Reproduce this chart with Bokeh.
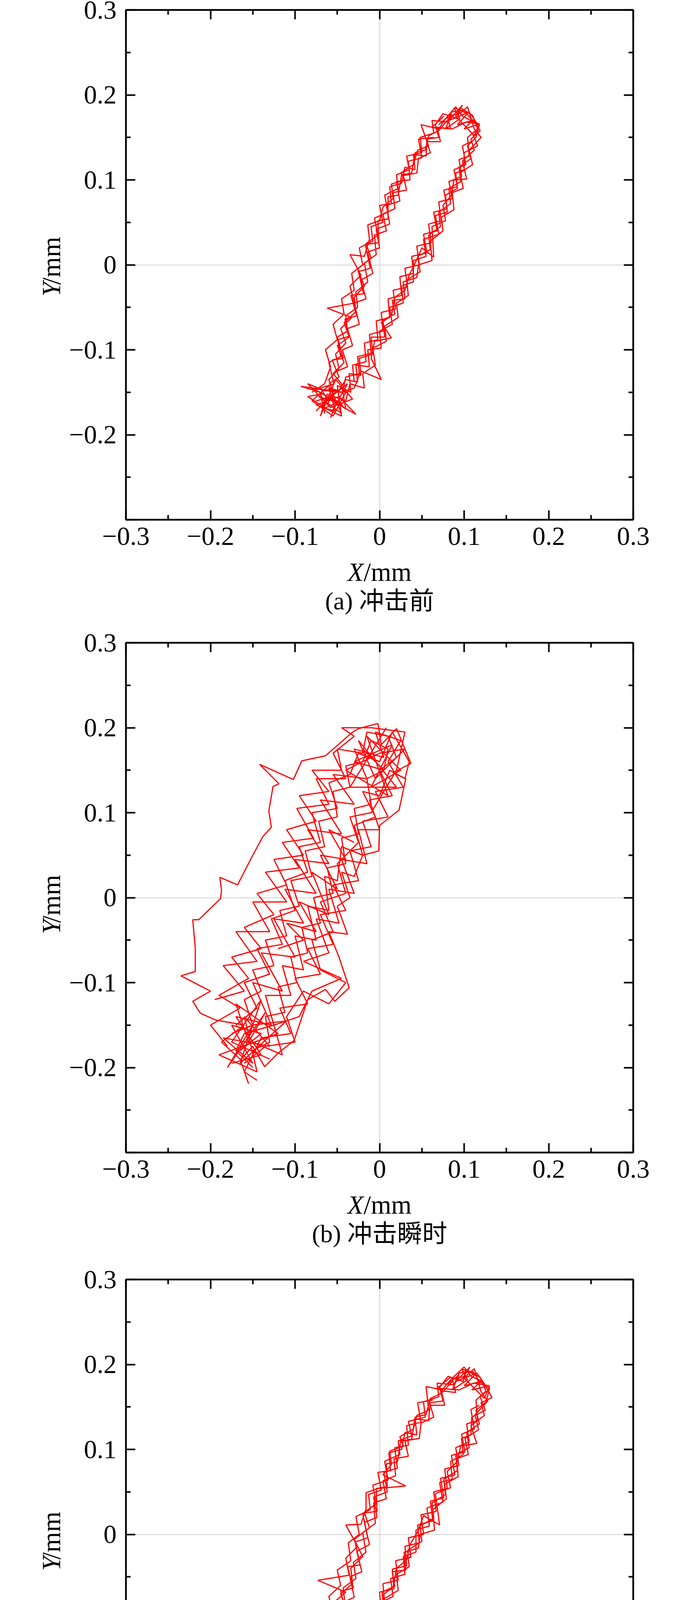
import math
from bokeh.plotting import figure
from bokeh.models import FixedTicker, LinearAxis, Label, CustomJSTickFormatter, Range1d
from bokeh.layouts import column, row
from bokeh.embed import file_html
from bokeh.resources import INLINE

# ---------------- data (mm) ----------------
major_ticks = [-0.3, -0.2, -0.1, 0.0, 0.1, 0.2, 0.3]
minor_ticks = [-0.25, -0.15, -0.05, 0.05, 0.15, 0.25]
captions = ["(a) 冲击前", "(b) 冲击瞬时", "(c) 冲击后"]

a_loop1 = [(-0.062,-0.165),(-0.055,-0.150),(-0.060,-0.135),(-0.048,-0.122),(-0.052,-0.105),(-0.040,-0.092),(-0.046,-0.075),(-0.033,-0.062),(-0.062,-0.051),(-0.030,-0.045),(-0.035,-0.025),(-0.022,-0.012),(-0.035,0.012),(-0.018,0.010),(-0.012,0.030),(-0.014,0.047),(0.000,0.052),(0.004,0.068),(0.016,0.078),(0.014,0.095),(0.030,0.100),(0.025,0.108),(0.040,0.118),(0.045,0.135),(0.058,0.140),(0.049,0.165),(0.070,0.160),(0.078,0.172),(0.090,0.186),(0.098,0.175),(0.112,0.168),(0.119,0.158),(0.108,0.148),(0.112,0.135),(0.098,0.122),(0.103,0.101),(0.088,0.100),(0.085,0.082),(0.075,0.070),(0.078,0.052),(0.062,0.045),(0.064,0.009),(0.050,0.020),(0.042,0.002),(0.035,-0.012),(0.030,-0.030),(0.018,-0.038),(0.014,-0.060),(0.002,-0.068),(0.014,-0.086),(-0.006,-0.090),(-0.010,-0.110),(0.002,-0.135),(-0.022,-0.125),(-0.030,-0.145),(-0.045,-0.150),(-0.093,-0.143),(-0.070,-0.150),(-0.065,-0.175)]
a_loop2 = [(-0.058,-0.180),(-0.050,-0.160),(-0.040,-0.170),(-0.045,-0.140),(-0.055,-0.128),(-0.042,-0.115),(-0.050,-0.095),(-0.036,-0.085),(-0.042,-0.068),(-0.028,-0.055),(-0.030,-0.038),(-0.018,-0.025),(-0.026,-0.005),(-0.010,0.008),(-0.016,0.025),(-0.002,0.035),(-0.006,0.055),(0.010,0.062),(0.006,0.082),(0.022,0.090),(0.020,0.106),(0.035,0.112),(0.032,0.128),(0.050,0.132),(0.048,0.150),(0.064,0.155),(0.062,0.170),(0.080,0.168),(0.085,0.180),(0.100,0.182),(0.108,0.172),(0.118,0.165),(0.114,0.150),(0.104,0.140),(0.108,0.125),(0.094,0.115),(0.096,0.098),(0.082,0.090),(0.084,0.072),(0.070,0.062),(0.072,0.045),(0.058,0.035),(0.060,0.018),(0.045,0.010),(0.048,-0.008),(0.032,-0.018),(0.034,-0.036),(0.020,-0.045),(0.022,-0.062),(0.006,-0.072),(0.008,-0.090),(-0.008,-0.098),(-0.005,-0.118),(-0.020,-0.128),(-0.018,-0.145),(-0.035,-0.140),(-0.040,-0.160),(-0.055,-0.155),(-0.075,-0.160)]
a_loop3 = [(-0.080,-0.150),(-0.065,-0.140),(-0.058,-0.120),(-0.064,-0.100),(-0.050,-0.088),(-0.055,-0.070),(-0.042,-0.058),(-0.045,-0.040),(-0.030,-0.030),(-0.033,-0.010),(-0.020,0.000),(-0.024,0.020),(-0.008,0.028),(-0.010,0.045),(0.004,0.050),(0.000,0.070),(0.014,0.072),(0.012,0.092),(0.026,0.096),(0.030,0.115),(0.042,0.112),(0.040,0.130),(0.055,0.128),(0.056,0.148),(0.070,0.150),(0.066,0.165),(0.075,0.178),(0.092,0.172),(0.095,0.185),(0.110,0.176),(0.116,0.160),(0.110,0.155),(0.116,0.140),(0.100,0.132),(0.100,0.112),(0.090,0.108),(0.092,0.090),(0.078,0.082),(0.080,0.062),(0.066,0.058),(0.070,0.036),(0.052,0.030),(0.055,0.010),(0.040,0.005),(0.040,-0.020),(0.026,-0.025),(0.028,-0.045),(0.012,-0.050),(0.015,-0.070),(0.000,-0.078),(0.002,-0.098),(-0.014,-0.100),(-0.012,-0.120),(-0.028,-0.118),(-0.026,-0.138),(-0.040,-0.135),(-0.048,-0.148),(-0.060,-0.145),(-0.052,-0.172),(-0.068,-0.168)]
a_loop4 = [(-0.075,-0.172),(-0.062,-0.158),(-0.070,-0.145),(-0.054,-0.140),(-0.060,-0.115),(-0.046,-0.108),(-0.050,-0.085),(-0.038,-0.078),(-0.040,-0.060),(-0.026,-0.050),(-0.028,-0.032),(-0.014,-0.020),(-0.018,0.002),(-0.004,0.012),(-0.006,0.035),(0.008,0.040),(0.004,0.060),(0.018,0.066),(0.016,0.085),(0.032,0.088),(0.028,0.105),(0.044,0.108),(0.046,0.125),(0.060,0.132),(0.056,0.145),(0.072,0.145),(0.068,0.162),(0.084,0.160),(0.080,0.175),(0.095,0.178),(0.104,0.186),(0.112,0.160),(0.120,0.150),(0.106,0.135),(0.110,0.118),(0.095,0.108),(0.099,0.090),(0.086,0.085),(0.088,0.065),(0.073,0.056),(0.075,0.040),(0.060,0.028),(0.062,0.005),(0.046,0.000),(0.044,-0.015),(0.028,-0.020),(0.030,-0.040),(0.015,-0.042),(0.018,-0.058),(0.004,-0.065),(0.006,-0.085),(-0.010,-0.085),(-0.008,-0.105),(-0.024,-0.110),(-0.022,-0.130),(-0.036,-0.128),(-0.034,-0.150),(-0.050,-0.142),(-0.045,-0.178),(-0.062,-0.170),(-0.085,-0.155),(-0.068,-0.152)]
a_left_extra = [(-0.050,-0.125),(-0.038,-0.120),(-0.044,-0.100),(-0.032,-0.095),(-0.038,-0.075),(-0.024,-0.070),(-0.030,-0.045),(-0.016,-0.040),(-0.022,-0.018),(-0.008,-0.010),(-0.014,0.015),(0.000,0.020),(-0.004,0.042),(0.012,0.048),(0.008,0.070),(0.024,0.075),(0.020,0.098),(0.036,0.100),(0.034,0.122),(0.050,0.126),(0.046,0.148),(0.064,0.150)]
a_right_extra = [(0.108,0.145),(0.098,0.140),(0.102,0.118),(0.088,0.112),(0.092,0.092),(0.076,0.088),(0.080,0.066),(0.064,0.062),(0.068,0.040),(0.052,0.036),(0.056,0.014),(0.038,0.010),(0.040,-0.010),(0.024,-0.014),(0.026,-0.036),(0.010,-0.040),(0.012,-0.062),(-0.004,-0.066),(-0.002,-0.088),(-0.018,-0.092),(-0.016,-0.114),(-0.032,-0.118),(-0.030,-0.138)]
a_left_extra2 = [(-0.060,-0.140),(-0.048,-0.132),(-0.056,-0.112),(-0.043,-0.110),(-0.049,-0.088),(-0.036,-0.084),(-0.041,-0.064),(-0.027,-0.060),(-0.034,-0.036),(-0.019,-0.034),(-0.025,-0.008),(-0.011,-0.004),(-0.017,0.024),(-0.001,0.026),(-0.002,0.052),(0.010,0.054),(0.010,0.080),(0.022,0.082),(0.026,0.106),(0.038,0.108),(0.042,0.132),(0.054,0.135),(0.058,0.152),(0.070,0.158),(0.080,0.170)]
a_right_extra2 = [(0.114,0.158),(0.104,0.150),(0.106,0.128),(0.094,0.124),(0.097,0.104),(0.082,0.098),(0.086,0.078),(0.070,0.074),(0.073,0.052),(0.058,0.048),(0.061,0.026),(0.044,0.022),(0.047,0.000),(0.030,-0.004),(0.033,-0.026),(0.016,-0.030),(0.019,-0.052),(0.002,-0.056),(0.004,-0.078),(-0.012,-0.082),(-0.010,-0.104),(-0.026,-0.108),(-0.024,-0.128),(-0.040,-0.132),(-0.044,-0.150)]
a_bottom_jitter = [(-0.068,-0.170),(-0.050,-0.162),(-0.072,-0.155),(-0.045,-0.175),(-0.060,-0.142),(-0.080,-0.160),(-0.055,-0.178),(-0.040,-0.150),(-0.065,-0.148),(-0.085,-0.140),(-0.058,-0.168),(-0.032,-0.158),(-0.052,-0.135),(-0.070,-0.178),(-0.062,-0.152),(-0.044,-0.165),(-0.078,-0.146),(-0.050,-0.148),(-0.066,-0.162),(-0.038,-0.140),(-0.056,-0.172),(-0.075,-0.165),(-0.048,-0.155),(-0.028,-0.176),(-0.060,-0.158)]
a_top_jitter = [(0.070,0.165),(0.085,0.178),(0.078,0.160),(0.095,0.172),(0.088,0.185),(0.104,0.178),(0.092,0.165),(0.110,0.170),(0.100,0.160),(0.116,0.165),(0.106,0.180),(0.082,0.170),(0.098,0.188),(0.090,0.175),(0.112,0.152),(0.118,0.166),(0.102,0.168),(0.086,0.160),(0.062,0.162),(0.076,0.175)]

b_sweep1 = [(-0.155,-0.219),(-0.165,-0.190),(-0.187,-0.170),(-0.160,-0.150),(-0.194,-0.144),(-0.212,-0.136),(-0.221,-0.122),(-0.200,-0.110),(-0.235,-0.092),(-0.218,-0.087),(-0.218,-0.059),(-0.221,-0.026),(-0.214,-0.026),(-0.188,-0.001),(-0.187,0.009),(-0.189,0.024),(-0.168,0.015),(-0.151,0.048),(-0.138,0.072),(-0.128,0.083),(-0.131,0.102),(-0.126,0.131),(-0.119,0.134),(-0.142,0.157),(-0.102,0.139),(-0.092,0.161),(-0.064,0.167),(-0.033,0.194),(-0.025,0.199),(-0.002,0.205),(0.002,0.180),(0.020,0.199),(0.037,0.158),(0.016,0.147),(0.031,0.140),(0.023,0.103),(0.000,0.085),(-0.001,0.055),(-0.020,0.050),(-0.030,0.025),(-0.045,0.030),(-0.035,0.000),(-0.050,-0.010),(-0.038,-0.043),(-0.060,-0.040),(-0.048,-0.070),(-0.036,-0.106),(-0.053,-0.122),(-0.064,-0.108),(-0.085,-0.120),(-0.101,-0.168),(-0.120,-0.183),(-0.136,-0.199),(-0.150,-0.175),(-0.165,-0.191)]
b_sweep2 = [(-0.175,-0.160),(-0.150,-0.150),(-0.160,-0.120),(-0.140,-0.110),(-0.150,-0.085),(-0.125,-0.080),(-0.135,-0.050),(-0.110,-0.045),(-0.118,-0.015),(-0.095,-0.010),(-0.105,0.020),(-0.080,0.025),(-0.088,0.055),(-0.065,0.060),(-0.072,0.090),(-0.050,0.095),(-0.055,0.125),(-0.035,0.130),(-0.040,0.155),(-0.020,0.160),(-0.010,0.185),(0.010,0.175),(0.005,0.150),(-0.015,0.140),(-0.010,0.110),(-0.030,0.105),(-0.025,0.075),(-0.045,0.070),(-0.040,0.040),(-0.062,0.035),(-0.055,0.005),(-0.078,0.000),(-0.070,-0.030),(-0.092,-0.035),(-0.085,-0.065),(-0.105,-0.070),(-0.098,-0.100),(-0.120,-0.105),(-0.112,-0.135),(-0.135,-0.140),(-0.130,-0.170),(-0.150,-0.180)]
b_sweep3 = [(-0.175,-0.195),(-0.140,-0.185),(-0.170,-0.140),(-0.128,-0.150),(-0.150,-0.100),(-0.115,-0.110),(-0.140,-0.065),(-0.100,-0.070),(-0.125,-0.025),(-0.090,-0.030),(-0.112,0.010),(-0.075,0.005),(-0.100,0.045),(-0.060,0.040),(-0.085,0.080),(-0.045,0.075),(-0.070,0.115),(-0.030,0.110),(-0.055,0.145),(-0.015,0.140),(-0.030,0.175),(0.005,0.165),(-0.005,0.195),(0.025,0.185),(0.010,0.160),(0.028,0.130),(-0.005,0.125),(0.010,0.095),(-0.020,0.090),(-0.010,0.060),(-0.035,0.055),(-0.025,0.020),(-0.055,0.015),(-0.040,-0.015),(-0.070,-0.020),(-0.055,-0.055),(-0.085,-0.060),(-0.070,-0.090),(-0.100,-0.095),(-0.085,-0.125),(-0.118,-0.130),(-0.105,-0.160),(-0.140,-0.165),(-0.160,-0.205),(-0.145,-0.215)]
b_sweep4 = [(-0.180,-0.175),(-0.200,-0.150),(-0.165,-0.130),(-0.190,-0.115),(-0.155,-0.095),(-0.175,-0.070),(-0.140,-0.060),(-0.160,-0.035),(-0.125,-0.020),(-0.145,0.005),(-0.110,0.015),(-0.125,0.045),(-0.090,0.050),(-0.110,0.080),(-0.075,0.090),(-0.095,0.120),(-0.060,0.125),(-0.080,0.150),(-0.045,0.150),(-0.050,0.175),(-0.020,0.170),(-0.015,0.195),(0.010,0.190),(0.020,0.165),(0.000,0.150),(0.015,0.120),(-0.012,0.115),(0.000,0.080),(-0.025,0.080),(-0.015,0.040),(-0.045,0.045),(-0.030,0.005),(-0.060,0.010),(-0.048,-0.030),(-0.075,-0.025),(-0.060,-0.065),(-0.090,-0.075),(-0.045,-0.095),(-0.080,-0.110),(-0.095,-0.140),(-0.125,-0.150),(-0.115,-0.185),(-0.150,-0.170)]
b_sweep5 = [(-0.170,-0.150),(-0.145,-0.130),(-0.160,-0.100),(-0.130,-0.090),(-0.145,-0.060),(-0.115,-0.055),(-0.128,-0.025),(-0.100,-0.015),(-0.112,0.020),(-0.085,0.030),(-0.095,0.060),(-0.070,0.065),(-0.080,0.100),(-0.050,0.105),(-0.060,0.135),(-0.035,0.145),(-0.025,0.170),(0.000,0.160),(0.015,0.195),(0.035,0.160),(0.030,0.140),(0.012,0.150),(0.000,0.120),(-0.020,0.125),(-0.005,0.095),(-0.030,0.085),(-0.020,0.050),(-0.045,0.060),(-0.050,0.020),(-0.065,0.025),(-0.060,-0.015),(-0.085,-0.010),(-0.075,-0.050),(-0.100,-0.045),(-0.090,-0.085),(-0.115,-0.080),(-0.105,-0.115),(-0.135,-0.115),(-0.125,-0.150),(-0.160,-0.160),(-0.170,-0.180),(-0.150,-0.200)]
b_sweep6 = [(-0.195,-0.120),(-0.160,-0.110),(-0.185,-0.080),(-0.145,-0.075),(-0.170,-0.040),(-0.130,-0.040),(-0.150,-0.005),(-0.110,-0.005),(-0.135,0.030),(-0.095,0.035),(-0.115,0.065),(-0.078,0.070),(-0.098,0.105),(-0.060,0.110),(-0.075,0.140),(-0.040,0.140),(-0.055,0.170),(-0.030,0.190),(-0.045,0.200),(-0.010,0.200),(0.030,0.195),(0.020,0.150),(-0.010,0.100),(-0.035,0.095),(-0.025,0.065),(-0.050,0.040),(-0.040,0.005),(-0.070,-0.005),(-0.055,-0.040),(-0.080,-0.050),(-0.070,-0.085),(-0.040,-0.100),(-0.060,-0.125),(-0.090,-0.110),(-0.110,-0.140),(-0.100,-0.170),(-0.135,-0.175),(-0.160,-0.195)]
b_mid_jitter = [(-0.120,-0.060),(-0.090,-0.050),(-0.110,-0.030),(-0.075,-0.040),(-0.095,-0.005),(-0.060,-0.020),(-0.080,0.030),(-0.050,0.010),(-0.070,0.050),(-0.040,0.045),(-0.060,0.080),(-0.030,0.065)]
b_bottom_jitter = [(-0.165,-0.180),(-0.140,-0.160),(-0.175,-0.150),(-0.150,-0.195),(-0.185,-0.165),(-0.130,-0.175),(-0.160,-0.140),(-0.145,-0.205),(-0.190,-0.185),(-0.120,-0.160),(-0.170,-0.125),(-0.155,-0.170),(-0.135,-0.135),(-0.180,-0.200),(-0.150,-0.150),(-0.110,-0.145),(-0.165,-0.195),(-0.140,-0.120),(-0.175,-0.170),(-0.130,-0.190)]
b_top_jitter = [(-0.020,0.175),(0.005,0.150),(-0.030,0.160),(0.015,0.180),(-0.010,0.130),(0.025,0.150),(-0.015,0.190),(0.010,0.120),(-0.040,0.150),(0.000,0.170),(0.030,0.175),(-0.005,0.140),(-0.025,0.185),(0.020,0.130),(-0.035,0.130),(0.008,0.200)]

c_loop1 = [(-0.070,-0.187),(-0.060,-0.165),(-0.068,-0.150),(-0.055,-0.135),(-0.062,-0.115),(-0.048,-0.100),(-0.054,-0.080),(-0.040,-0.068),(-0.073,-0.054),(-0.036,-0.048),(-0.040,-0.028),(-0.026,-0.014),(-0.040,0.011),(-0.022,0.012),(-0.016,0.030),(-0.016,0.049),(-0.002,0.054),(0.031,0.057),(0.004,0.070),(0.014,0.082),(0.012,0.098),(0.028,0.104),(0.024,0.115),(0.040,0.124),(0.044,0.140),(0.058,0.146),(0.055,0.174),(0.074,0.170),(0.084,0.182),(0.100,0.197),(0.108,0.186),(0.122,0.180),(0.133,0.161),(0.120,0.155),(0.124,0.140),(0.108,0.128),(0.115,0.107),(0.096,0.104),(0.092,0.086),(0.080,0.074),(0.084,0.055),(0.066,0.048),(0.071,0.011),(0.052,0.022),(0.045,0.003),(0.036,-0.012),(0.032,-0.030),(0.020,-0.040),(0.016,-0.062),(0.003,-0.072),(0.0155,-0.091),(-0.006,-0.094),(-0.010,-0.116),(0.001,-0.141),(-0.024,-0.130),(-0.032,-0.150),(-0.050,-0.158),(-0.104,-0.150),(-0.076,-0.158),(-0.072,-0.182)]
c_loop2 = [(-0.062,-0.188),(-0.054,-0.168),(-0.044,-0.178),(-0.050,-0.146),(-0.060,-0.134),(-0.046,-0.120),(-0.056,-0.098),(-0.040,-0.088),(-0.046,-0.070),(-0.032,-0.058),(-0.034,-0.040),(-0.020,-0.026),(-0.030,-0.006),(-0.012,0.008),(-0.018,0.026),(-0.004,0.036),(-0.008,0.058),(0.010,0.064),(0.006,0.086),(0.024,0.094),(0.022,0.110),(0.038,0.116),(0.034,0.133),(0.054,0.138),(0.052,0.156),(0.070,0.162),(0.068,0.178),(0.088,0.176),(0.094,0.190),(0.110,0.192),(0.118,0.180),(0.130,0.172),(0.126,0.156),(0.114,0.146),(0.118,0.130),(0.103,0.120),(0.106,0.102),(0.090,0.094),(0.092,0.075),(0.076,0.065),(0.078,0.047),(0.062,0.037),(0.064,0.019),(0.048,0.010),(0.050,-0.008),(0.033,-0.019),(0.035,-0.038),(0.020,-0.047),(0.022,-0.066),(0.005,-0.076),(0.007,-0.094),(-0.010,-0.102),(-0.006,-0.123),(-0.022,-0.134),(-0.020,-0.152),(-0.038,-0.146),(-0.044,-0.168),(-0.060,-0.162),(-0.082,-0.168)]
c_loop3 = [(-0.088,-0.158),(-0.070,-0.146),(-0.064,-0.125),(-0.070,-0.104),(-0.055,-0.092),(-0.060,-0.073),(-0.046,-0.060),(-0.050,-0.042),(-0.034,-0.031),(-0.037,-0.010),(-0.024,0.000),(-0.028,0.021),(-0.011,0.029),(-0.013,0.047),(0.002,0.052),(-0.002,0.073),(0.013,0.075),(0.011,0.096),(0.026,0.100),(0.030,0.120),(0.044,0.117),(0.042,0.136),(0.058,0.134),(0.060,0.155),(0.075,0.157),(0.071,0.173),(0.081,0.186),(0.099,0.180),(0.102,0.194),(0.119,0.185),(0.126,0.168),(0.119,0.162),(0.125,0.146),(0.109,0.138),(0.108,0.117),(0.097,0.113),(0.099,0.094),(0.084,0.086),(0.086,0.065),(0.071,0.061),(0.075,0.038),(0.056,0.031),(0.059,0.010),(0.043,0.005),(0.043,-0.021),(0.028,-0.026),(0.030,-0.047),(0.013,-0.052),(0.016,-0.073),(0.000,-0.081),(0.002,-0.102),(-0.015,-0.104),(-0.013,-0.125),(-0.030,-0.123),(-0.028,-0.144),(-0.043,-0.141),(-0.052,-0.155),(-0.064,-0.151),(-0.056,-0.180),(-0.073,-0.176)]
c_loop4 = [(-0.082,-0.180),(-0.067,-0.165),(-0.076,-0.151),(-0.058,-0.146),(-0.065,-0.120),(-0.050,-0.113),(-0.054,-0.089),(-0.041,-0.082),(-0.043,-0.063),(-0.028,-0.052),(-0.031,-0.033),(-0.016,-0.021),(-0.020,0.002),(-0.005,0.013),(-0.007,0.037),(0.008,0.042),(0.004,0.063),(0.019,0.069),(0.017,0.089),(0.034,0.092),(0.030,0.110),(0.047,0.113),(0.049,0.131),(0.064,0.138),(0.060,0.152),(0.077,0.152),(0.073,0.169),(0.090,0.167),(0.086,0.183),(0.102,0.186),(0.112,0.195),(0.120,0.168),(0.128,0.157),(0.113,0.141),(0.117,0.123),(0.101,0.113),(0.105,0.094),(0.091,0.089),(0.093,0.068),(0.077,0.059),(0.079,0.042),(0.063,0.029),(0.065,0.005),(0.048,0.000),(0.046,-0.016),(0.029,-0.021),(0.031,-0.042),(0.015,-0.044),(0.018,-0.061),(0.003,-0.068),(0.005,-0.089),(-0.012,-0.089),(-0.010,-0.110),(-0.027,-0.115),(-0.025,-0.136),(-0.040,-0.134),(-0.038,-0.157),(-0.055,-0.148),(-0.049,-0.186),(-0.067,-0.178),(-0.092,-0.162),(-0.073,-0.159)]
c_left_extra = [(-0.056,-0.130),(-0.044,-0.126),(-0.050,-0.105),(-0.038,-0.100),(-0.043,-0.080),(-0.030,-0.074),(-0.035,-0.050),(-0.021,-0.044),(-0.027,-0.020),(-0.012,-0.012),(-0.018,0.014),(-0.003,0.020),(-0.007,0.044),(0.009,0.050),(0.005,0.073),(0.021,0.078),(0.018,0.102),(0.034,0.105),(0.032,0.128),(0.049,0.132),(0.045,0.155),(0.063,0.158)]
c_right_extra = [(0.118,0.152),(0.108,0.147),(0.112,0.124),(0.097,0.118),(0.101,0.097),(0.085,0.093),(0.089,0.070),(0.072,0.066),(0.076,0.043),(0.060,0.039),(0.063,0.016),(0.045,0.011),(0.047,-0.010),(0.030,-0.014),(0.032,-0.037),(0.015,-0.041),(0.017,-0.064),(0.000,-0.068),(0.002,-0.091),(-0.015,-0.095),(-0.013,-0.118),(-0.030,-0.122),(-0.028,-0.143)]
c_left_extra2 = [(-0.066,-0.145),(-0.054,-0.138),(-0.062,-0.117),(-0.048,-0.114),(-0.054,-0.092),(-0.041,-0.088),(-0.046,-0.067),(-0.031,-0.063),(-0.038,-0.038),(-0.023,-0.036),(-0.029,-0.009),(-0.014,-0.004),(-0.020,0.025),(-0.003,0.027),(-0.004,0.054),(0.009,0.056),(0.008,0.083),(0.021,0.085),(0.025,0.110),(0.038,0.112),(0.042,0.138),(0.055,0.141),(0.060,0.160),(0.073,0.166),(0.086,0.180)]
c_right_extra2 = [(0.125,0.168),(0.114,0.158),(0.116,0.134),(0.103,0.130),(0.106,0.109),(0.090,0.102),(0.094,0.081),(0.077,0.077),(0.080,0.054),(0.064,0.050),(0.067,0.027),(0.049,0.023),(0.052,0.000),(0.034,-0.004),(0.037,-0.027),(0.019,-0.031),(0.022,-0.054),(0.004,-0.058),(0.006,-0.081),(-0.011,-0.085),(-0.009,-0.108),(-0.026,-0.112),(-0.024,-0.133),(-0.041,-0.138),(-0.046,-0.157)]
c_bottom_jitter = [(-0.075,-0.178),(-0.058,-0.170),(-0.080,-0.162),(-0.050,-0.184),(-0.066,-0.148),(-0.088,-0.168),(-0.060,-0.186),(-0.044,-0.158),(-0.072,-0.155),(-0.094,-0.146),(-0.064,-0.176),(-0.038,-0.166),(-0.058,-0.140),(-0.078,-0.186),(-0.068,-0.160),(-0.050,-0.172),(-0.086,-0.152),(-0.055,-0.155),(-0.072,-0.170),(-0.042,-0.146),(-0.062,-0.180),(-0.082,-0.174),(-0.054,-0.162),(-0.034,-0.182),(-0.066,-0.165)]
c_top_jitter = [(0.078,0.175),(0.094,0.188),(0.086,0.170),(0.104,0.182),(0.097,0.195),(0.113,0.188),(0.100,0.175),(0.120,0.180),(0.109,0.170),(0.126,0.174),(0.115,0.190),(0.090,0.180),(0.107,0.197),(0.099,0.185),(0.124,0.160),(0.130,0.175),(0.111,0.178),(0.094,0.170),(0.068,0.172),(0.084,0.185)]

panel_a = [a_loop1, a_loop2, a_loop3, a_loop4, a_left_extra, a_right_extra,
           a_left_extra2, a_right_extra2, a_bottom_jitter, a_top_jitter]
panel_b = [b_sweep1, b_sweep2, b_sweep3, b_sweep4, b_sweep5, b_sweep6,
           b_mid_jitter, b_bottom_jitter, b_top_jitter]
panel_c = [c_loop1, c_loop2, c_loop3, c_loop4, c_left_extra, c_right_extra,
           c_left_extra2, c_right_extra2, c_bottom_jitter, c_top_jitter]

# ---------------- styling / layout ----------------
SERIF = "'Liberation Serif', 'Times New Roman', serif"
CAPFONT = "'Liberation Serif', 'Noto Sans CJK SC', serif"
FS = "67px"
FRAME_W, FRAME_H = 1299, 1305
LEFT_MAIN, RIGHT_MAIN, BOTTOM_MAIN = 152, 135, 95
YLAB_W = 170
MAIN_W = LEFT_MAIN + FRAME_W + RIGHT_MAIN
FULL_W = YLAB_W + MAIN_W
W_ITALIC_X, W_ITALIC_Y, W_MM = 41, 37, 123   # glyph advance widths at 67px
XLAB_FROM_TOP, CAP_FROM_TOP = 38, 113         # centres inside the strip below each plot
YLAB_SHIFT = 42                                # rotated label: move down to sit on the frame centre

fmt_js = """
if (Math.abs(tick) < 1e-9) return '0';
var s = Math.abs(tick).toFixed(1);
return tick < 0 ? '\\u2212' + s : s;"""


def style_axis(ax):
    ax.ticker = FixedTicker(ticks=major_ticks, minor_ticks=minor_ticks)
    ax.axis_line_width = 4
    ax.axis_line_color = "black"
    ax.major_tick_line_width = 4
    ax.minor_tick_line_width = 4
    ax.major_tick_in = 24
    ax.major_tick_out = 0
    ax.minor_tick_in = 12
    ax.minor_tick_out = 0
    ax.major_tick_line_color = "black"
    ax.minor_tick_line_color = "black"
    ax.major_label_text_font = SERIF
    ax.major_label_text_font_size = FS
    ax.major_label_text_color = "black"


def blank_fig(w, h):
    f = figure(width=w, height=h, x_range=Range1d(0, w), y_range=Range1d(0, h),
               x_axis_location=None, y_axis_location=None,
               output_backend="svg", toolbar_location=None, min_border=0,
               background_fill_color="white", border_fill_color="white")
    f.outline_line_color = None
    f.grid.visible = False
    return f


def make_main(segments, top):
    p = figure(frame_width=FRAME_W, frame_height=FRAME_H,
               x_range=Range1d(-0.3, 0.3), y_range=Range1d(-0.3, 0.3),
               output_backend="svg", toolbar_location=None,
               min_border_left=LEFT_MAIN, min_border_right=RIGHT_MAIN,
               min_border_top=top, min_border_bottom=BOTTOM_MAIN,
               background_fill_color="white", border_fill_color="white")
    p.outline_line_color = "black"
    p.outline_line_width = 4

    p.xgrid.ticker = FixedTicker(ticks=[0.0])
    p.ygrid.ticker = FixedTicker(ticks=[0.0])
    p.grid.grid_line_color = "#c4c4c4"
    p.grid.grid_line_width = 1.6

    style_axis(p.xaxis[0])
    style_axis(p.yaxis[0])
    p.xaxis[0].formatter = CustomJSTickFormatter(code=fmt_js)
    p.yaxis[0].formatter = CustomJSTickFormatter(code="if (tick < -0.25) return '';" + fmt_js)
    p.xaxis[0].major_label_standoff = 20
    p.yaxis[0].major_label_standoff = 24

    for loc in ("above", "right"):
        ax = LinearAxis(formatter=CustomJSTickFormatter(code="return '';"))
        style_axis(ax)
        ax.major_label_text_font_size = "0px"
        ax.major_label_standoff = 0
        p.add_layout(ax, loc)

    xs = [[pt[0] for pt in seg] for seg in segments]
    ys = [[pt[1] for pt in seg] for seg in segments]
    p.multi_line(xs, ys, line_color="#ff0000", line_width=3)
    return p


def make_ylabel(top):
    main_h = top + FRAME_H + BOTTOM_MAIN
    f = blank_fig(YLAB_W, main_h)
    yc = main_h - (top + FRAME_H / 2) - YLAB_SHIFT
    total = W_ITALIC_Y + W_MM
    y_of_Y = yc - total / 2 + W_ITALIC_Y / 2
    y_of_mm = yc - total / 2 + W_ITALIC_Y + W_MM / 2
    for txt, style, yy in (("Y", "italic", y_of_Y), ("/mm", "normal", y_of_mm)):
        f.add_layout(Label(x=130, y=yy, angle=math.pi / 2, text=txt,
                           text_font=SERIF, text_font_style=style, text_font_size=FS,
                           text_align="center", text_baseline="middle", text_color="black"))
    return f


def make_bottom(caption, h):
    f = blank_fig(FULL_W, h)
    xc = YLAB_W + LEFT_MAIN + FRAME_W / 2
    total = W_ITALIC_X + W_MM
    x_of_X = xc - total / 2 + W_ITALIC_X / 2
    x_of_mm = xc - total / 2 + W_ITALIC_X + W_MM / 2
    for txt, style, xx in (("X", "italic", x_of_X), ("/mm", "normal", x_of_mm)):
        f.add_layout(Label(x=xx, y=h - XLAB_FROM_TOP, text=txt,
                           text_font=SERIF, text_font_style=style, text_font_size=FS,
                           text_align="center", text_baseline="middle", text_color="black"))
    f.add_layout(Label(x=xc, y=h - CAP_FROM_TOP, text=caption,
                       text_font=CAPFONT, text_font_size="64px",
                       text_align="center", text_baseline="middle", text_color="black"))
    return f


# (segments, caption, top border of plot, height of strip below plot)
panels = [(panel_a, captions[0], 25, 165),
          (panel_b, captions[1], 55, 175),
          (panel_c, captions[2], 55, 152)]

rows = []
for segs, cap, top, hb in panels:
    rows.append(row(make_ylabel(top), make_main(segs, top), spacing=0))
    rows.append(make_bottom(cap, hb))

layout = column(*rows, spacing=0)

with open("out.html", "w", encoding="utf-8") as f:
    f.write(file_html(layout, INLINE))
